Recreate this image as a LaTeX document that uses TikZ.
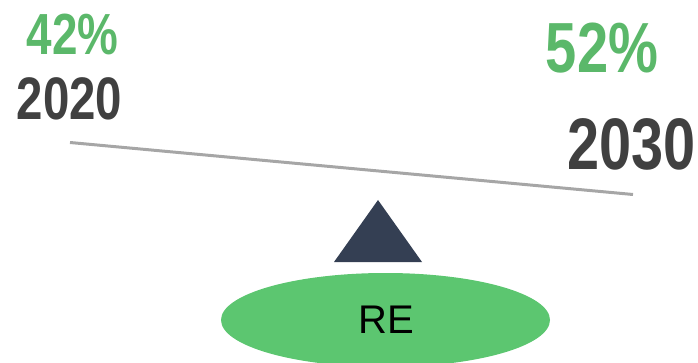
\documentclass[tikz,border=0pt]{standalone}
\usepackage{fontspec}
\setmainfont{Liberation Sans}
\usetikzlibrary{shapes.geometric}
\definecolor{pctgreen}{HTML}{5BB86A}
\definecolor{yeargray}{HTML}{404040}
\definecolor{beamgray}{HTML}{A6A6A6}
\definecolor{fulcrum}{HTML}{343F53}
\definecolor{basegreen}{HTML}{5CC670}
\tikzset{
  pct/.style={text=pctgreen, font=\bfseries, xscale=0.79, inner sep=0pt, anchor=base},
  year/.style={text=yeargray, font=\bfseries, xscale=0.79, inner sep=0pt, anchor=base},
}
\begin{document}
\begin{tikzpicture}[x=1pt,y=-1pt]
\useasboundingbox (0,0) rectangle (698,363);
% base ellipse
\node[ellipse, fill=basegreen, minimum width=329pt, minimum height=94pt, inner sep=0pt] (re) at (385.5,320) {};
\node[inner sep=0pt, anchor=base, font=\fontsize{40}{40}\selectfont] (retext) at (386,333) {RE};
% fulcrum triangle
\coordinate (apex) at (378,200);
\coordinate (bl) at (334,262);
\coordinate (br) at (422,262);
\fill[fulcrum] (apex) -- (bl) -- (br) -- cycle;
% beam
\coordinate (beamL) at (70,142.5);
\coordinate (beamR) at (633,194.5);
\draw[beamgray, line width=3pt] (beamL) -- (beamR);
% labels
\node[pct, font=\bfseries\fontsize{58}{58}\selectfont] (p42) at (72.5,55) {42\%};
\node[year, font=\bfseries\fontsize{60}{60}\selectfont] (y2020) at (69.5,120) {2020};
\node[pct, font=\bfseries\fontsize{71}{71}\selectfont] (p52) at (602,73) {52\%};
\node[year, font=\bfseries\fontsize{73}{73}\selectfont] (y2030) at (631.5,170) {2030};
\end{tikzpicture}
\end{document}
